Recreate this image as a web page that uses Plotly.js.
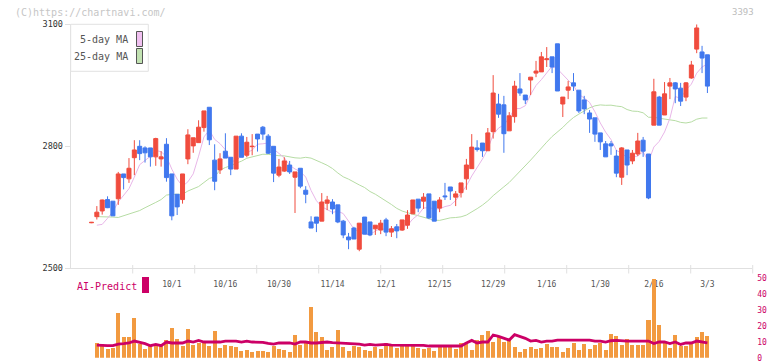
<!DOCTYPE html>
<html><head><meta charset="utf-8">
<script src="https://cdn.plot.ly/plotly-3.0.1.min.js"></script>
<style>html,body{margin:0;padding:0;background:#fff;} #chart{width:772px;height:361px;}</style>
</head><body><div id="chart"></div>
<script>
// ---- data ----
const opens = [2612,2627,2641,2669,2665,2671,2732,2720,2772,2800,
2796,2796,2774,2769,2805,2732,2682,2669,2769,2801,
2809,2846,2896,2766,2742,2788,2773,2744,2825,2778,
2799,2830,2847,2825,2800,2729,2739,2754,2724,2746,
2692,2614,2626,2616,2660,2663,2656,2616,2577,2599,
2547,2626,2614,2597,2594,2619,2589,2602,2594,2606,
2634,2670,2665,2683,2665,2648,2678,2700,2675,2686,
2720,2745,2796,2808,2789,2836,2904,2902,2838,2873,
2941,2926,2963,2980,2983,3013,3020,3052,2904,2938,
2956,2938,2914,2882,2870,2833,2806,2806,2776,2724,
2791,2764,2781,2815,2781,2852,2921,2877,2948,2956,
2943,2921,2968,3039,3032,3025];
const highs = [2614,2653,2669,2677,2665,2737,2732,2771,2815,2815,
2800,2796,2821,2788,2820,2732,2682,2732,2842,2821,
2864,2887,2896,2805,2783,2832,2773,2825,2832,2823,
2830,2830,2850,2830,2800,2769,2773,2764,2737,2746,
2702,2628,2626,2685,2678,2670,2656,2619,2587,2602,
2611,2626,2614,2606,2619,2624,2604,2609,2619,2643,
2668,2670,2685,2683,2665,2675,2710,2700,2690,2710,
2769,2830,2815,2808,2845,2975,2929,2924,2884,2961,
2980,2926,2970,3010,3032,3044,3020,3052,2921,2961,
2980,2938,2924,2889,2870,2833,2813,2813,2791,2798,
2791,2791,2833,2823,2781,2966,2924,2958,2968,2958,
2956,2958,3010,3100,3047,3025];
const lows = [2611,2620,2632,2648,2629,2656,2694,2710,2729,2766,
2760,2750,2752,2750,2713,2618,2631,2659,2756,2784,
2809,2836,2803,2692,2732,2771,2729,2744,2773,2773,
2778,2787,2816,2781,2712,2724,2737,2732,2636,2697,
2660,2599,2589,2616,2643,2633,2611,2574,2547,2572,
2542,2584,2579,2582,2584,2579,2577,2574,2592,2597,
2634,2638,2646,2621,2616,2638,2668,2668,2653,2674,
2693,2745,2787,2774,2789,2819,2870,2784,2838,2858,
2924,2904,2926,2970,2983,2995,2980,2936,2872,2916,
2936,2882,2879,2833,2811,2791,2774,2779,2724,2705,
2729,2756,2776,2774,2670,2852,2852,2877,2916,2906,
2899,2911,2966,3029,2980,2931];
const closes = [2613,2638,2668,2649,2629,2732,2723,2746,2791,2782,
2784,2774,2819,2774,2723,2629,2651,2732,2828,2821,
2847,2887,2816,2714,2769,2771,2744,2825,2773,2810,
2800,2818,2830,2783,2734,2749,2764,2737,2737,2702,
2682,2599,2611,2663,2668,2646,2614,2582,2570,2572,
2611,2584,2582,2606,2611,2589,2597,2592,2619,2631,
2668,2648,2675,2624,2616,2668,2676,2690,2683,2710,
2754,2798,2792,2789,2833,2931,2879,2831,2875,2948,
2931,2914,2970,2985,3020,3015,2995,2936,2921,2946,
2948,2887,2892,2867,2830,2811,2774,2801,2734,2796,
2754,2783,2813,2788,2673,2934,2852,2929,2956,2941,
2911,2956,3000,3091,3017,2948];
// volume (first session has no bar)
const volumes = [null,
9.2,8.5,5.4,6.0,27.9,12.9,12.9,24.8,8.5,5.4,
7.9,8.5,7.3,11,18.5,11.7,7.3,17.9,7.9,9.2,
9.2,7.3,16.7,6.0,7.9,7.3,6.7,4.2,4.8,3.5,
4.2,4.2,3.5,7.3,5.4,4.8,3.5,14.2,7.9,9.2,
31.7,16,12.9,4.8,6.7,17.3,6.7,4.2,7.3,6.7,
4.8,4.2,6.7,5.4,9.2,
7.3,6.0,7.9,7.9,7.9,6.0,5.4,6.0,4.2,7.3,
7.3,6.7,5.4,9.2,9.2,4.8,11,14.2,16.7,9.8,
13.5,9.8,11,6.7,3.5,5.4,6.7,5.4,6.0,8.5,
6.7,6.7,3.5,6.0,9.2,4.8,8.5,5.4,7.9,9.2,
4.8,14.8,13.5,7.9,11.7,7.9,7.9,7.9,23.5,49.2,
20.4,9.8,6.0,14.2,7.3,7.3,8.5,12.9,16,13.5];
const aiPredict = [null,
7.9,7.5,7.5,7.5,8.5,8.8,9.2,10.4,9.6,8.8,
7.5,8.3,7.5,9.8,9.2,9.2,9.2,10.4,9.8,10.8,
9.8,9.8,9.8,9.8,10.4,10.4,10.4,9.8,10.4,9.8,
9.8,9.6,9.0,8.5,9.2,9.2,9.2,8.5,9.8,9.8,
9.2,9.2,9.6,9.8,9.4,9.2,9.2,9.0,8.5,8.5,
7.9,8.3,7.9,8.3,8.3,
7.9,7.9,7.7,7.7,7.7,7.7,7.7,7.3,7.3,7.3,
7.7,7.7,7.3,7.3,9.2,10.8,9.2,9.8,9.8,14.2,
13.3,12.3,11,14.4,13.3,12.1,10.4,10.8,9.8,10.4,
10.4,11,11,11,11,11,11,11,10.4,10.4,
9.8,10.6,10.8,10.4,10.4,10.4,10.4,10.4,10.4,8.8,
9.8,9.8,8.8,9.8,8.3,9.2,9.2,10.4,9.8,9.2];
// moving-average values before enough closes are on the chart
const ma5Lead = [null,2606,2608,2623];
const ma25Lead = [null,2627,2627,2627,2626,2625,2629,2633,2637,2642,2649,2655,
2662,2669,2680,2682,2682,2682,2690,2695,2701,2711,2721,2725];
const dateLabels = ['10/1','10/16','10/30','11/14','12/1','12/15','12/29','1/16','1/30','2/16','3/3'];
const dateLabelIdx = [15,25,35,45,55,65,75,85,95,105,115];

// ---- derived ----
const idx = closes.map((_, i) => i);
function movingAvg(n, lead) {
  return closes.map((c, i) => {
    if (i < lead.length) return lead[i];
    let s = 0; for (let j = i - n + 1; j <= i; j++) s += closes[j];
    return s / n;
  });
}
const ma5 = movingAvg(5, ma5Lead);
const ma25 = movingAvg(25, ma25Lead);

// ---- layout helpers (pixel -> paper) ----
const W = 772, H = 361;
const px = x => x / W, py = y => 1 - y / H;
const plotL = 70.7, plotR = 751.7;
const xRange = [-3.88, 123.27];
const mono = 'DejaVu Sans Mono';

const traces = [
  {type:'scatter', mode:'lines', x:idx, y:ma25, xaxis:'x', yaxis:'y',
   line:{color:'#b6dca4', width:1}, hoverinfo:'skip'},
  {type:'scatter', mode:'lines', x:idx, y:ma5, xaxis:'x', yaxis:'y',
   line:{color:'#e8b6e8', width:1}, hoverinfo:'skip'},
  {type:'candlestick', x:idx, open:opens, high:highs, low:lows, close:closes,
   xaxis:'x3', yaxis:'y3', whiskerwidth:0,
   increasing:{line:{color:'#f04c3e', width:1}, fillcolor:'#f04c3e'},
   decreasing:{line:{color:'#4078ee', width:1}, fillcolor:'#4078ee'},
   hoverinfo:'skip'},
  {type:'bar', x:idx, y:volumes, xaxis:'x2', yaxis:'y2', width:0.75,
   marker:{color:'#f29a40', line:{width:0}}, hoverinfo:'skip'},
  {type:'scatter', mode:'lines', x:idx, y:aiPredict, xaxis:'x2', yaxis:'y2',
   line:{color:'#cc0066', width:2.8}, hoverinfo:'skip'}
];

const tickPx = [];
for (let k = 1; k <= 11; k++) tickPx.push(plotL + 62 * k);

const shapes = [
  {type:'rect', xref:'paper', yref:'paper', x0:px(70.7), x1:px(148.3), y0:py(71.3), y1:py(24.3),
   line:{color:'#e2e2e2', width:1}, fillcolor:'#ffffff', layer:'above'},
  {type:'rect', xref:'paper', yref:'paper', x0:px(136.5), x1:px(142.5), y0:py(46.5), y1:py(31.5),
   line:{color:'#555', width:1}, fillcolor:'#f0c0f0', layer:'above'},
  {type:'rect', xref:'paper', yref:'paper', x0:px(136.5), x1:px(142.5), y0:py(63.5), y1:py(48.5),
   line:{color:'#555', width:1}, fillcolor:'#c2e2b2', layer:'above'},
  {type:'rect', xref:'paper', yref:'paper', x0:px(142), x1:px(149), y0:py(293), y1:py(277),
   line:{width:0}, fillcolor:'#cc0066', layer:'above'}
];
tickPx.forEach(t => shapes.push({type:'line', xref:'paper', yref:'paper',
  x0:px(t), x1:px(t), y0:py(273.5), y1:py(265), line:{color:'#e0e0e0', width:1}}));

const annotations = [
  {text:'(C)https://chartnavi.com/', xref:'paper', yref:'paper', x:px(13), y:py(12.3),
   xanchor:'left', yanchor:'middle', showarrow:false, font:{family:mono, size:10, color:'#c6c6c6'}},
  {text:'3393', xref:'paper', yref:'paper', x:px(756), y:py(12.3),
   xanchor:'right', yanchor:'middle', showarrow:false, font:{family:mono, size:9, color:'#bdbdbd'}},
  {text:'5-day MA', xref:'paper', yref:'paper', x:px(130), y:py(39.5),
   xanchor:'right', yanchor:'middle', showarrow:false, font:{family:mono, size:10, color:'#555'}},
  {text:'25-day MA', xref:'paper', yref:'paper', x:px(130), y:py(56.5),
   xanchor:'right', yanchor:'middle', showarrow:false, font:{family:mono, size:10, color:'#555'}},
  {text:'AI-Predict', xref:'paper', yref:'paper', x:px(75), y:py(286),
   xanchor:'left', yanchor:'middle', showarrow:false, font:{family:mono, size:10, color:'#cc0066'}}
];

const layout = {
  width:W, height:H, margin:{l:0, r:0, t:0, b:0},
  paper_bgcolor:'#fff', plot_bgcolor:'rgba(0,0,0,0)', showlegend:false,
  boxgap:0.25, boxgroupgap:0, bargap:0,
  xaxis:{domain:[px(plotL), px(plotR)], range:xRange, anchor:'y',
    showline:true, linecolor:'#e0e0e0', linewidth:1, mirror:false,
    tickmode:'array', tickvals:dateLabelIdx, ticktext:dateLabels,
    ticks:'outside', ticklen:8, tickcolor:'rgba(0,0,0,0)',
    tickfont:{family:mono, size:8, color:'#555'},
    showgrid:false, zeroline:false, fixedrange:true, rangeslider:{visible:false}},
  yaxis:{domain:[py(268.3), py(24.3)], range:[2500,3100], anchor:'x',
    tickmode:'array', tickvals:[2500,2800,3100],
    ticks:'outside', ticklen:5, tickcolor:'#e0e0e0',
    showline:true, linecolor:'#e0e0e0', linewidth:1,
    tickfont:{family:mono, size:8.5, color:'#333'},
    showgrid:false, zeroline:false, fixedrange:true},
  xaxis3:{overlaying:'x', anchor:'y3', range:xRange, visible:false, rangeslider:{visible:false}, fixedrange:true},
  yaxis3:{overlaying:'y', anchor:'x3', range:[2500,3100], visible:false, fixedrange:true},
  xaxis2:{domain:[px(plotL), px(plotR)], range:xRange, anchor:'y2', visible:false, fixedrange:true},
  yaxis2:{domain:[py(357.7), py(277.7)], range:[0,50], anchor:'x2', side:'right',
    tickmode:'array', tickvals:[0,10,20,30,40,50],
    ticks:'outside', ticklen:3, tickcolor:'rgba(0,0,0,0)', ticklabeloverflow:'allow',
    ticklabelshift:-2.5,
    showline:false, showgrid:false, zeroline:false,
    tickfont:{family:mono, size:8, color:'#cc0066'}, fixedrange:true},
  shapes:shapes, annotations:annotations
};

Plotly.newPlot('chart', traces, layout, {staticPlot:true, displayModeBar:false});
</script>
</body></html>
